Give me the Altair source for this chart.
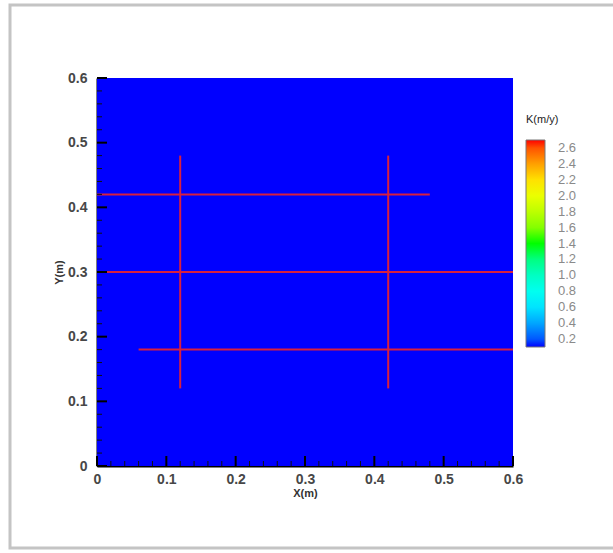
import altair as alt
import pandas as pd

# --- data ---
field_x = [0.0]
field_x2 = [0.6]
field_y = [0.0]
field_y2 = [0.6]
field_k = [0.1]

frac_x1 = [0.0, 0.0, 0.06, 0.12, 0.42]
frac_x2 = [0.48, 0.6, 0.6, 0.12, 0.42]
frac_y1 = [0.42, 0.30, 0.18, 0.12, 0.12]
frac_y2 = [0.42, 0.30, 0.18, 0.48, 0.48]

major_ticks = [0.0, 0.1, 0.2, 0.3, 0.4, 0.5, 0.6]
minor_ticks = [0.02, 0.04, 0.06, 0.08, 0.12, 0.14, 0.16, 0.18, 0.22, 0.24, 0.26, 0.28,
               0.32, 0.34, 0.36, 0.38, 0.42, 0.44, 0.46, 0.48, 0.52, 0.54, 0.56, 0.58]
legend_values = [0.2, 0.4, 0.6, 0.8, 1.0, 1.2, 1.4, 1.6, 1.8, 2.0, 2.2, 2.4, 2.6]
cmap_stops = [0.1, 0.7, 1.4, 2.1, 2.7]
cmap_colors = ["#0000ff", "#00ffff", "#00ff00", "#ffff00", "#ff0000"]

W, H = 416, 388
dom = [0, 0.6]
xs = alt.Scale(domain=dom, nice=False, zero=False)
ys = alt.Scale(domain=dom, nice=False, zero=False)

field_df = pd.DataFrame({"x": field_x, "x2": field_x2, "y": field_y, "y2": field_y2, "K": field_k})
frac_df = pd.DataFrame({"x": frac_x1, "x2": frac_x2, "y": frac_y1, "y2": frac_y2})
xmaj_df = pd.DataFrame({"xt": major_ticks})
xmin_df = pd.DataFrame({"xm": minor_ticks})
ymaj_df = pd.DataFrame({"yt": major_ticks})
ymin_df = pd.DataFrame({"ym": minor_ticks})

label_expr = "datum.value == 0 ? '0' : format(datum.value, '.1f')"

x_axis = alt.Axis(values=major_ticks, labelExpr=label_expr, ticks=False,
                  grid=False, domainColor="black", domainWidth=2, labelFlush=False,
                  labelPadding=6, titlePadding=1)
y_axis = alt.Axis(values=major_ticks, labelExpr=label_expr, ticks=False,
                  grid=False, domainColor="black", domainWidth=2, labelFlush=False,
                  labelPadding=10, titlePadding=3)

frame = alt.Chart(pd.DataFrame({"a": [0]})).mark_rect(
    fill=None, stroke="#c4c4c4", strokeWidth=3
).encode(
    x=alt.value(-87), x2=alt.value(540), y=alt.value(-73), y2=alt.value(470)
)

field = alt.Chart(field_df).mark_rect().encode(
    x=alt.X("x:Q", scale=xs, title="X(m)", axis=x_axis), x2="x2:Q",
    y=alt.Y("y:Q", scale=ys, title="Y(m)", axis=y_axis), y2="y2:Q",
    color=alt.Color("K:Q",
                    scale=alt.Scale(domain=cmap_stops, range=cmap_colors),
                    legend=alt.Legend(title="K(m/y)", values=legend_values, format=".1f",
                                      orient="none", legendX=W + 13, legendY=36,
                                      direction="vertical", gradientLength=207,
                                      gradientThickness=19, gradientStrokeColor="#777",
                                      gradientStrokeWidth=1, titleFontSize=11,
                                      titleFontWeight="normal", titleColor="#222",
                                      titlePadding=15, labelFontSize=13, labelColor="#8a8a8a",
                                      labelOffset=13, titleAnchor="start"))
)

def X(f):
    return alt.X(f, scale=xs, title="X(m)")

def Y(f):
    return alt.Y(f, scale=ys, title="Y(m)")

fracs = alt.Chart(frac_df).mark_rule(color="#d8203e", strokeWidth=2).encode(
    x=X("x:Q"), x2="x2:Q",
    y=Y("y:Q"), y2="y2:Q"
)

xmaj = alt.Chart(xmaj_df).mark_rule(stroke="#000000", strokeWidth=2).encode(
    x=X("xt:Q"), y=alt.value(H), y2=alt.value(H - 10))
xmin = alt.Chart(xmin_df).mark_rule(stroke="#111111", strokeWidth=1).encode(
    x=X("xm:Q"), y=alt.value(H), y2=alt.value(H - 5))
ymaj = alt.Chart(ymaj_df).mark_rule(stroke="#000000", strokeWidth=2).encode(
    y=Y("yt:Q"), x=alt.value(0), x2=alt.value(10))
ymin = alt.Chart(ymin_df).mark_rule(stroke="#111111", strokeWidth=1).encode(
    y=Y("ym:Q"), x=alt.value(0), x2=alt.value(5))

chart = alt.layer(frame, field, fracs, xmin, xmaj, ymin, ymaj).properties(
    width=W, height=H,
    autosize=alt.AutoSizeParams(type="none"),
    padding={"left": 97, "top": 78, "right": 100, "bottom": 87},
    background="white"
).configure_view(stroke=None).configure_axis(
    labelFont="Liberation Sans", labelFontSize=14, labelFontWeight="bold",
    labelColor="#474747", titleFont="Liberation Sans", titleFontSize=11,
    titleFontWeight="bold", titleColor="#333"
).configure_legend(labelFont="Liberation Sans", titleFont="Liberation Sans")

chart.save("out.html", embed_options={"renderer": "svg", "actions": False})
